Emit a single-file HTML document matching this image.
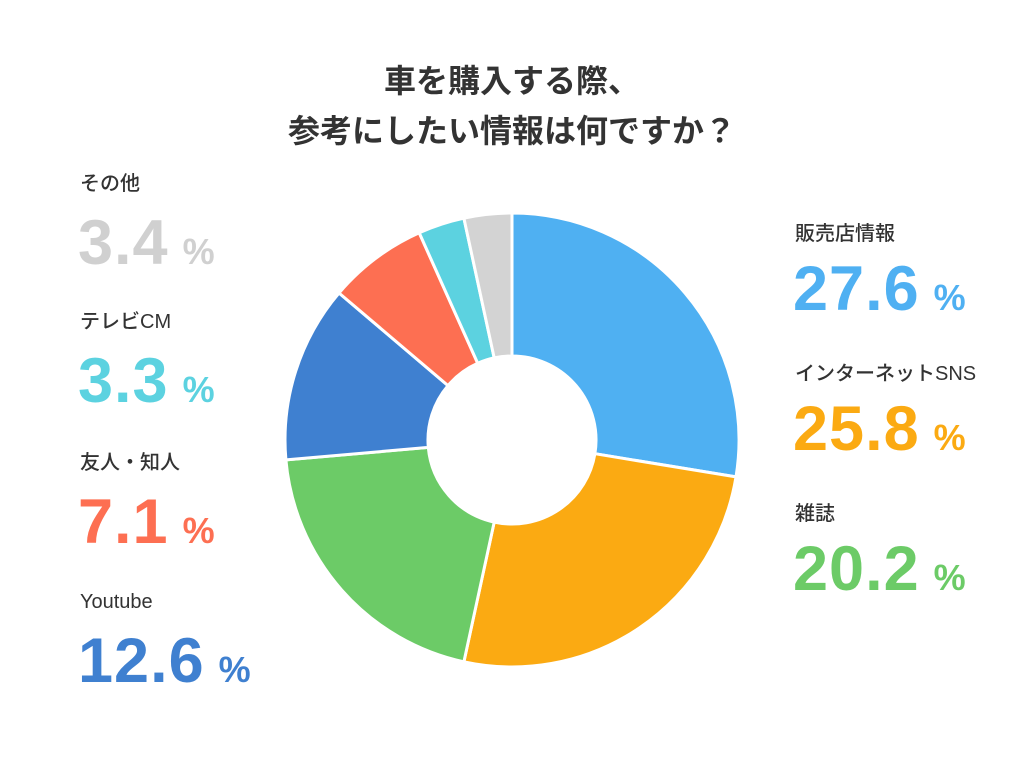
<!DOCTYPE html>
<html><head><meta charset="utf-8"><style>
html,body{margin:0;padding:0;background:#fff;}
svg{display:block;}
.t{font-family:"Liberation Sans","Noto Sans CJK JP",sans-serif;font-weight:bold;fill:#333;font-size:32px;}
.l{font-family:"Liberation Sans","Noto Sans CJK JP",sans-serif;font-weight:500;fill:#333;font-size:20px;}
.n{font-family:"Liberation Sans",sans-serif;font-weight:bold;font-size:63px;letter-spacing:1px;}
.p{font-family:"Liberation Sans",sans-serif;font-weight:bold;font-size:36px;}
</style></head><body>
<svg width="1024" height="759" viewBox="0 0 1024 759" xmlns="http://www.w3.org/2000/svg">
<text class="t" x="512" y="92" text-anchor="middle">車を購入する際、</text>
<text class="t" x="512" y="142" text-anchor="middle">参考にしたい情報は何ですか？</text>
<g stroke="#fff" stroke-width="3" stroke-linejoin="round">
<path d="M512,213 A227,227 0 0 1 736,476.9 L594.9,453.7 A84,84 0 0 0 512,356 Z" fill="#4FB0F2"/>
<path d="M736,476.9 A227,227 0 0 1 463.9,661.8 L494.2,522.1 A84,84 0 0 0 594.9,453.7 Z" fill="#FBAA12"/>
<path d="M463.9,661.8 A227,227 0 0 1 285.9,459.9 L428.3,447.4 A84,84 0 0 0 494.2,522.1 Z" fill="#6CCB67"/>
<path d="M285.9,459.9 A227,227 0 0 1 339,293 L448,385.6 A84,84 0 0 0 428.3,447.4 Z" fill="#3F80D0"/>
<path d="M339,293 A227,227 0 0 1 419.2,232.8 L477.7,363.3 A84,84 0 0 0 448,385.6 Z" fill="#FD6F52"/>
<path d="M419.2,232.8 A227,227 0 0 1 463.9,218.2 L494.2,357.9 A84,84 0 0 0 477.7,363.3 Z" fill="#5CD2E0"/>
<path d="M463.9,218.2 A227,227 0 0 1 512,213 L512,356 A84,84 0 0 0 494.2,357.9 Z" fill="#D3D3D3"/>
</g>
<text class="l" x="795" y="240">販売店情報</text>
<text x="793" y="310" fill="#4FB0F2"><tspan class="n">27.6</tspan><tspan class="p" dx="14">%</tspan></text>
<text class="l" x="795" y="380">インターネットSNS</text>
<text x="793" y="450" fill="#FBAA12"><tspan class="n">25.8</tspan><tspan class="p" dx="14">%</tspan></text>
<text class="l" x="795" y="520">雑誌</text>
<text x="793" y="590" fill="#6CCB67"><tspan class="n">20.2</tspan><tspan class="p" dx="14">%</tspan></text>

<text class="l" x="80" y="190">その他</text>
<text x="78" y="264" fill="#D0D0D0"><tspan class="n">3.4</tspan><tspan class="p" dx="14">%</tspan></text>
<text class="l" x="80" y="328">テレビCM</text>
<text x="78" y="402" fill="#5CD2E0"><tspan class="n">3.3</tspan><tspan class="p" dx="14">%</tspan></text>
<text class="l" x="80" y="469">友人・知人</text>
<text x="78" y="543" fill="#FD6F52"><tspan class="n">7.1</tspan><tspan class="p" dx="14">%</tspan></text>
<text class="l" x="80" y="608">Youtube</text>
<text x="78" y="682" fill="#3F80D0"><tspan class="n">12.6</tspan><tspan class="p" dx="14">%</tspan></text>
</svg>
</body></html>
